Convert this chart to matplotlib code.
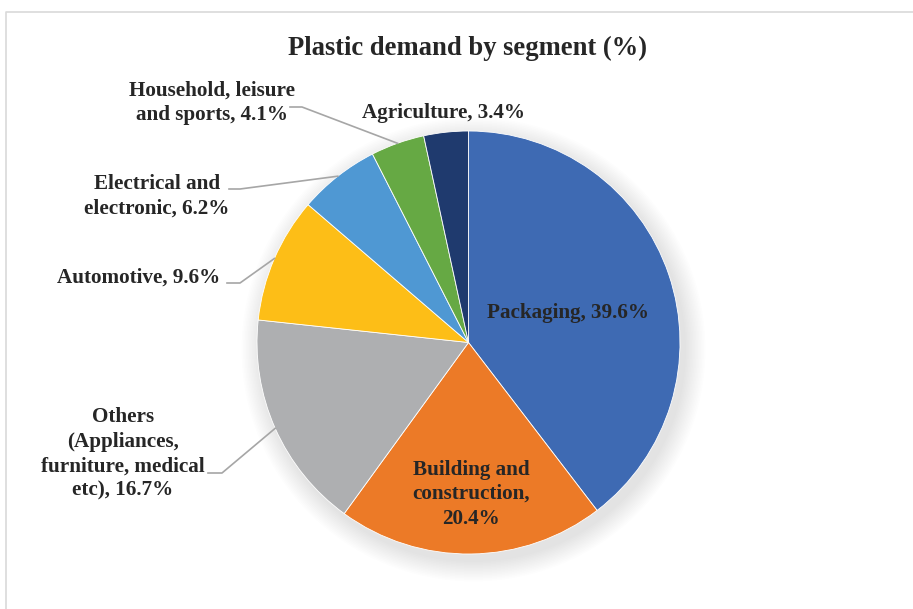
import numpy as np
import matplotlib
matplotlib.use("Agg")
from matplotlib import pyplot as plt
from matplotlib.patches import Circle

segments = ["Packaging", "Building and\nconstruction", "Others\n(Appliances,\nfurniture, medical\netc)",
            "Automotive", "Electrical and\nelectronic", "Household, leisure\nand sports", "Agriculture"]
shares = [39.6, 20.4, 16.7, 9.6, 6.2, 4.1, 3.4]
colors = ["#3E6AB3", "#EC7A27", "#AEAFB1", "#FDBE17", "#4F98D3", "#66A944", "#1F3A6E"]

plt.rcParams['font.family'] = ['Liberation Serif', 'DejaVu Serif']
txt_color = "#262626"

W, H = 913, 609
fig = plt.figure(figsize=(W / 100, H / 100), dpi=100)
ax = fig.add_axes([0, 0, 1, 1])

# chart frame
ax.plot([6, 6, W + 5], [H + 5, 12, 12], color="#D9D9D9", lw=1.2, clip_on=False)

cx, cy, r = 468.5, 342.5, 211.5

# soft shadow round the pie
for k in range(14):
    ax.add_patch(Circle((cx + 5, cy + 7), r + 1 + k * 1.5, color="#000000", alpha=0.009, lw=0, zorder=1))

wedges, _ = ax.pie(shares, colors=colors, startangle=-90, counterclock=True,
                   center=(cx, cy), radius=r, frame=True,
                   wedgeprops=dict(linewidth=0.6, edgecolor="white", zorder=2))
ax.set_xlim(0, W)
ax.set_ylim(H, 0)
ax.set_aspect('equal')
ax.axis('off')

ax.text(467, 48, "Plastic demand by segment (%)", ha='center', va='center',
        fontsize=19.2, fontweight='bold', color=txt_color)

labels = [f"{s}, {v:.1f}%" for s, v in zip(segments, shares)]
labels[1] = "Building and\nconstruction,\n20.4%"

fs = 15.2
ls = 1.3
# inside labels
ax.text(568, 313, labels[0], ha='center', va='center', fontsize=fs, fontweight='bold',
        color=txt_color, zorder=5)
ax.text(471, 494, labels[1], ha='center', va='center', fontsize=fs, fontweight='bold',
        color=txt_color, linespacing=ls, zorder=5)
ax.text(443, 113, labels[6], ha='center', va='center', fontsize=fs, fontweight='bold',
        color=txt_color, zorder=5)

# outside labels with leader lines: (text x, text y, line start x, elbow x, line y)
outside = {
    2: (123, 454, 208, 222, 473),
    3: (139, 278, 227, 240, 283),
    4: (157, 196, 229, 240, 189),
    5: (212, 103, 290, 302, 107),
}
for i, (tx, ty, x0, x1, ly) in outside.items():
    mid = np.deg2rad((wedges[i].theta1 + wedges[i].theta2) / 2)
    ex, ey = cx + r * np.cos(mid), cy + r * np.sin(mid)
    ax.plot([x0, x1, ex], [ly, ly, ey], color="#A6A6A6", lw=1.2, zorder=3)
    ax.text(tx, ty, labels[i], ha='center', va='center', fontsize=fs, fontweight='bold',
            color=txt_color, linespacing=ls, multialignment='center', zorder=5)

fig.savefig("out.png", dpi=100)
